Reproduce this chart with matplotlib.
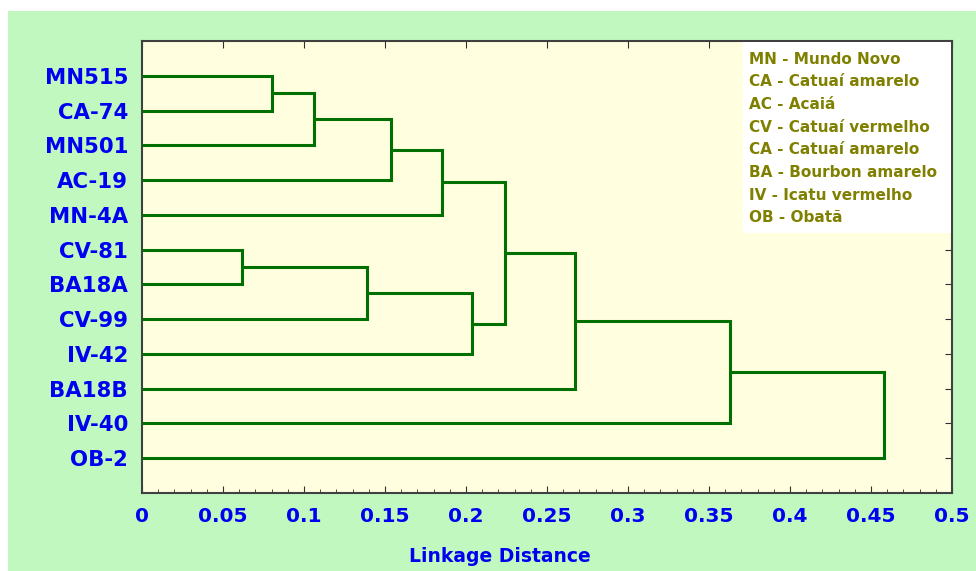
import matplotlib
matplotlib.use("Agg")
import matplotlib.pyplot as plt
from matplotlib.patches import Rectangle
from matplotlib.ticker import MultipleLocator

# Leaves, top to bottom
leaves = ["MN515", "CA-74", "MN501", "AC-19", "MN-4A", "CV-81", "BA18A",
          "CV-99", "IV-42", "BA18B", "IV-40", "OB-2"]
# Merges: (child_a, child_b, linkage distance); "Nk" = result of merge k
merge_a = ["MN515", "N0", "N1", "N2", "CV-81", "N4", "N5", "N3", "N7", "N8", "N9"]
merge_b = ["CA-74", "MN501", "AC-19", "MN-4A", "BA18A", "CV-99", "IV-42", "N6", "BA18B", "IV-40", "OB-2"]
merge_h = [0.080, 0.106, 0.154, 0.185, 0.062, 0.139, 0.204, 0.224, 0.267, 0.363, 0.458]

x_ticks = [0, 0.05, 0.1, 0.15, 0.2, 0.25, 0.3, 0.35, 0.4, 0.45, 0.5]

legend_lines = ["MN - Mundo Novo", "CA - Catuaí amarelo", "AC - Acaiá",
                "CV - Catuaí vermelho", "CA - Catuaí amarelo", "BA - Bourbon amarelo",
                "IV - Icatu vermelho", "OB - Obatã"]

W, H = 976, 571
fig = plt.figure(figsize=(W / 100, H / 100), dpi=100)
fig.patch.set_facecolor("white")
fig.patches.append(Rectangle((8 / W, 0), 1 - 8 / W, 1 - 11 / H, transform=fig.transFigure,
                             facecolor="#C0F8C0", edgecolor="none", zorder=-10))

ax = fig.add_axes([142 / W, 1 - 493 / H, 810 / W, 452 / H])
ax.set_facecolor("#FFFFE0")

pos = {name: i + 1 for i, name in enumerate(leaves)}
height = {name: 0.0 for name in leaves}
line_color = "#007000"
for k, (a, b, h) in enumerate(zip(merge_a, merge_b, merge_h)):
    ya, yb = pos[a], pos[b]
    ax.plot([height[a], h, h, height[b]], [ya, ya, yb, yb], color=line_color,
            lw=2.2, solid_joinstyle="miter", solid_capstyle="butt", zorder=3)
    name = "N%d" % k
    pos[name] = (ya + yb) / 2
    height[name] = h

ax.set_xlim(0, 0.5)
ax.set_ylim(13, 0)
ax.set_yticks(range(1, len(leaves) + 1))
ax.set_yticklabels(leaves)
ax.set_xticks(x_ticks)
ax.set_xticklabels(["%g" % t for t in x_ticks])
ax.xaxis.set_minor_locator(MultipleLocator(0.01))

for lab in ax.get_xticklabels():
    lab.set_color("#0000F0")
    lab.set_fontweight("bold")
    lab.set_fontsize(14.5)
for lab in ax.get_yticklabels():
    lab.set_color("#0000F0")
    lab.set_fontweight("bold")
    lab.set_fontsize(15.3)

ax.tick_params(axis="both", which="both", direction="in", color="#303030")
ax.tick_params(axis="x", which="major", length=5, top=True, pad=10)
ax.tick_params(axis="x", which="minor", length=3, top=False)
ax.tick_params(axis="y", which="major", length=5, left=False, right=True, pad=10)
for s in ax.spines.values():
    s.set_color("#404040")
    s.set_linewidth(1.5)

fig.text(500 / W, 1 - 556 / H, "Linkage Distance", color="#0000F0", fontsize=13.5,
         fontweight="bold", ha="center", va="center")

# legend box
ax.add_patch(Rectangle((743 / W, 1 - 233 / H), (951 - 743) / W, (233 - 42) / H,
                       transform=fig.transFigure, facecolor="white", edgecolor="none",
                       zorder=4, clip_on=False))
for i, t in enumerate(legend_lines):
    fig.text(749 / W, 1 - (59 + 22.7 * i) / H, t, color="#808000", fontsize=11,
             fontweight="bold", ha="left", va="center", zorder=5,
             family=["Liberation Sans Narrow", "DejaVu Sans"])

fig.savefig("out.png", dpi=100)
